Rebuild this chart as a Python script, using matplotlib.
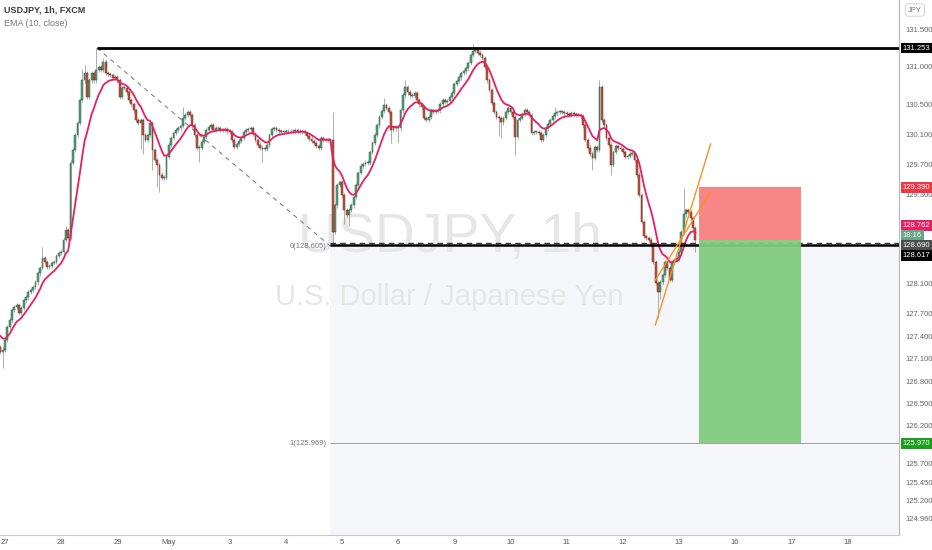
import numpy as np
import pandas as pd
import matplotlib
matplotlib.use('Agg')
import matplotlib.pyplot as plt
from matplotlib.patches import Rectangle

plt.rcParams['font.family'] = ['Liberation Sans', 'DejaVu Sans']

# hourly closes (bar 0 = Apr 27 00:00)
close_apr26 = [127.19, 127.22]
close_apr27 = [127.35, 127.52, 127.61, 127.75, 127.79, 127.82, 127.71, 127.78, 127.88, 127.92, 127.99, 128.02,
               128.06, 128.12, 128.24, 128.31, 128.44, 128.39, 128.33, 128.34, 128.38, 128.39, 128.47, 128.51]
close_apr28 = [128.53, 128.69, 128.82, 128.71, 129.72, 129.89, 130.09, 130.25, 130.56, 130.82, 130.92, 130.60,
               130.82, 130.92, 130.82, 130.96, 131.00, 130.96, 131.07, 130.92, 130.90, 130.89, 130.85, 130.86]
close_apr29 = [130.82, 130.60, 130.72, 130.72, 130.66, 130.56, 130.50, 130.42, 130.29, 130.25, 130.29, 130.09,
               130.02, 130.09, 130.25, 129.89, 129.76, 129.69, 129.56, 129.52, 129.52, 129.80, 129.96, 130.05]
close_may02 = [130.12, 130.16, 130.18, 130.21, 130.32, 130.36, 130.40, 130.36, 130.22, 130.09, 129.92, 129.92,
               130.00, 130.06, 130.16, 130.20, 130.22, 130.16, 130.18, 130.18, 130.16, 130.16, 130.17, 130.14]
close_may03 = [130.13, 130.02, 129.93, 129.97, 130.01, 130.05, 130.13, 130.16, 130.17, 130.18, 130.10, 130.02,
               129.96, 129.92, 129.90, 129.90, 129.96, 130.09, 130.17, 130.18, 130.16, 130.14, 130.13, 130.13]
close_may04 = [130.14, 130.14, 130.14, 130.14, 130.16, 130.13, 130.14, 130.14, 130.12, 130.08, 130.04, 130.01,
               129.98, 129.94, 129.92, 130.05, 130.02, 130.02, 130.02, 130.02, 128.79, 129.15, 129.42, 129.46]
close_may05 = [129.29, 129.09, 129.02, 129.09, 129.15, 129.26, 129.42, 129.58, 129.68, 129.70, 129.72, 129.72,
               129.86, 129.98, 130.09, 130.22, 130.33, 130.41, 130.49, 130.45, 130.40, 130.16, 130.20, 130.18]
close_may06 = [130.18, 130.42, 130.62, 130.73, 130.66, 130.62, 130.61, 130.65, 130.56, 130.50, 130.46, 130.32,
               130.29, 130.33, 130.41, 130.40, 130.41, 130.42, 130.50, 130.56, 130.53, 130.54, 130.60, 130.65]
close_may09 = [130.77, 130.81, 130.86, 130.92, 130.94, 130.98, 131.05, 131.16, 131.21, 131.22, 131.19, 131.16,
               131.12, 131.00, 130.82, 130.69, 130.52, 130.40, 130.33, 130.32, 130.26, 130.32, 130.40, 130.45]
close_may10 = [130.40, 130.33, 130.06, 130.29, 130.32, 130.37, 130.42, 130.40, 130.36, 130.12, 130.13, 130.13,
               130.12, 130.02, 130.09, 130.18, 130.24, 130.29, 130.34, 130.38, 130.40, 130.40, 130.40, 130.38]
close_may11 = [130.37, 130.36, 130.38, 130.37, 130.36, 130.36, 130.34, 130.22, 130.02, 129.92, 129.84, 129.78,
               129.93, 129.89, 130.73, 130.29, 130.22, 130.05, 129.96, 129.69, 129.86, 129.94, 129.92, 129.90]
close_may12 = [129.86, 129.80, 129.81, 129.84, 129.85, 129.76, 129.56, 129.29, 128.93, 128.74, 128.71, 128.69,
               128.62, 128.39, 128.11, 127.99, 128.12, 128.22, 128.39, 128.31, 128.15, 128.38, 128.42, 128.44]
close_may13 = [128.53, 128.79, 129.03, 129.09, 129.06, 128.98, 128.85, 128.69]
first_open = 127.25
ema_seed = 127.45  # EMA value just before the first visible bar

# long wicks seen on the chart (bar index -> price)
wick_high = {16: 128.59, 26: 128.88, 33: 130.97, 34: 131.02, 39: 131.25, 42: 131.12, 76: 130.46,
             140: 130.40, 162: 130.58, 171: 130.82, 200: 131.31, 201: 131.27, 229: 130.14,
             235: 130.46, 254: 130.82, 290: 129.38}
wick_low = {-1: 126.97, 58: 129.90, 59: 129.84, 63: 129.62, 65: 129.40, 66: 129.33, 83: 129.73,
            110: 129.73, 140: 128.60, 145: 128.90, 147: 128.88, 165: 129.98, 168: 130.00,
            211: 130.08, 212: 130.05, 218: 129.82, 251: 129.62, 259: 129.55, 279: 127.64,
            280: 127.90, 295: 128.52}

day_ticks = [0, 24, 48, 70, 96, 120, 144, 168, 192, 216, 240, 264, 288, 312, 336, 360]
day_labels = ['27', '28', '29', 'May', '3', '4', '5', '6', '9', '10', '11', '12', '13', '16', '17', '18']
price_ticks = [131.5, 131.0, 130.5, 130.1, 129.7, 129.3, 128.1, 127.7, 127.4, 127.1,
               126.8, 126.5, 126.2, 125.7, 125.45, 125.2, 124.96]

high_line = 131.253
fib_0 = 128.605
fib_1 = 125.969
hline_low = 128.617
entry = 128.69
stop = 129.39
target = 125.97

closes = np.array(close_apr26 + close_apr27 + close_apr28 + close_apr29 + close_may02 + close_may03
                  + close_may04 + close_may05 + close_may06 + close_may09 + close_may10 + close_may11
                  + close_may12 + close_may13)
bars = np.arange(-2, -2 + len(closes))
opens = np.concatenate([[first_open], closes[:-1]])
highs = np.maximum(opens, closes) + 0.03
lows = np.minimum(opens, closes) - 0.03
for t, v in wick_high.items():
    highs[t + 2] = max(v, highs[t + 2])
for t, v in wick_low.items():
    lows[t + 2] = min(v, lows[t + 2])
ema = pd.Series(np.concatenate([[ema_seed], closes])).ewm(span=10, adjust=False).mean().values[1:]

fig = plt.figure(figsize=(9.32, 5.5), dpi=100)
ax = fig.add_axes([0, 15 / 550, 899 / 932, 535 / 550])
x_right = 382.0
ax.set_xlim(-2.14, x_right)
ax.set_ylim(124.742, 131.895)

# fib extension background
ax.fill_between([139, x_right], 124.742, fib_0, color='#f5f6fa', lw=0, zorder=0.2)

# watermark
ax.text(0.5, 0.555, 'USDJPY, 1h', transform=ax.transAxes, ha='center', va='center',
        fontsize=40, color='#e6e6e6', zorder=0.5)
ax.text(0.5, 0.445, 'U.S. Dollar / Japanese Yen', transform=ax.transAxes, ha='center', va='center',
        fontsize=21, color='#e6e6e6', zorder=0.5)

ax.plot([39.3, 139], [high_line, fib_0], color='#808080', lw=0.8, ls=(0, (4, 4)), zorder=1)
ax.hlines(fib_1, 139, x_right, color='#a0a0a0', lw=0.7, zorder=1)
ax.text(137.5, fib_0, '0(128.605)', ha='right', va='center', fontsize=5.5, color='#777777', zorder=8)
ax.text(137.5, fib_1, '1(125.969)', ha='right', va='center', fontsize=5.5, color='#777777', zorder=8)

# horizontal levels
ax.hlines(high_line, 39.3, x_right, color='black', lw=2, zorder=5)
ax.hlines(hline_low, 139, x_right, color='black', lw=1.8, zorder=5)
ax.hlines(fib_0 + 0.04, 139, x_right, color='#333333', lw=1, ls=(0, (4, 3)), zorder=5)

# candles
up = closes >= opens
body = np.maximum(np.abs(closes - opens), 0.01)
ax.vlines(bars, lows, highs, color='#a0a0a0', lw=0.6, zorder=2)
ax.bar(bars[up], body[up], bottom=opens[up], width=0.78, color='#54a07b',
       edgecolor='#2f5f47', lw=0.35, zorder=3)
ax.bar(bars[~up], body[~up], bottom=closes[~up], width=0.78, color='#c2553d',
       edgecolor='#6b2a1d', lw=0.35, zorder=3)
ax.plot(bars, ema, color='#e91e63', lw=1.3, zorder=4)

# long position tool
ax.add_patch(Rectangle((296.4, entry), 43.85, stop - entry, color='#f98080', lw=0, alpha=0.95, zorder=6))
ax.add_patch(Rectangle((296.4, target), 43.85, entry - target, color='#80cc80', lw=0, alpha=0.95, zorder=6))

# rising channel
ax.plot([277.9, 301.5], [127.55, 129.97], color='#f7931e', lw=1, zorder=7)
ax.plot([277.9, 301.5], [128.15, 129.33], color='#f7931e', lw=1, zorder=7)

for s in ['top', 'left']:
    ax.spines[s].set_visible(False)
ax.spines['right'].set_color('#b4b4b4')
ax.spines['bottom'].set_color('#c8c8c8')
ax.spines['right'].set_linewidth(0.8)
ax.spines['bottom'].set_linewidth(0.8)

ax.yaxis.tick_right()
ax.set_yticks(price_ticks)
ax.set_yticklabels([f'{v:.3f}' for v in price_ticks])
ax.tick_params(axis='y', length=0, pad=5, labelsize=5.5, labelcolor='#666666')
ax.set_xticks(day_ticks)
ax.set_xticklabels(day_labels)
ax.tick_params(axis='x', length=0, pad=3, labelsize=5.5, labelcolor='#555555')

# price scale labels
scale_labels = [(131.253, '131.253', 'black'), (129.39, '129.390', '#f23645'),
                (128.88, '128.762', '#e91e63'), (128.745, '18:16', '#6aa587'),
                (128.61, '128.690', '#4d4d4d'), (128.475, '128.617', 'black'),
                (125.97, '125.970', '#1e9e1e')]
for yv, txt, col in scale_labels:
    ax.text(1.004, yv, txt, transform=ax.get_yaxis_transform(), ha='left', va='center',
            fontsize=5.5, color='white', clip_on=False, zorder=10,
            bbox=dict(boxstyle='square,pad=0.25', fc=col, ec='none'))

fig.text(915 / 932, 1 - 10 / 550, 'JPY', ha='center', va='center', fontsize=5.5, color='#777777',
         bbox=dict(boxstyle='round,pad=0.35', fc='white', ec='#cccccc', lw=0.6))
fig.text(4 / 932, 1 - 10 / 550, 'USDJPY, 1h, FXCM', ha='left', va='center', fontsize=6.5,
         weight='bold', color='#3a3a3a')
fig.text(4 / 932, 1 - 24 / 550, 'EMA (10, close)', ha='left', va='center', fontsize=6.5,
         color='#777777')

fig.savefig('out.png', dpi=100)
